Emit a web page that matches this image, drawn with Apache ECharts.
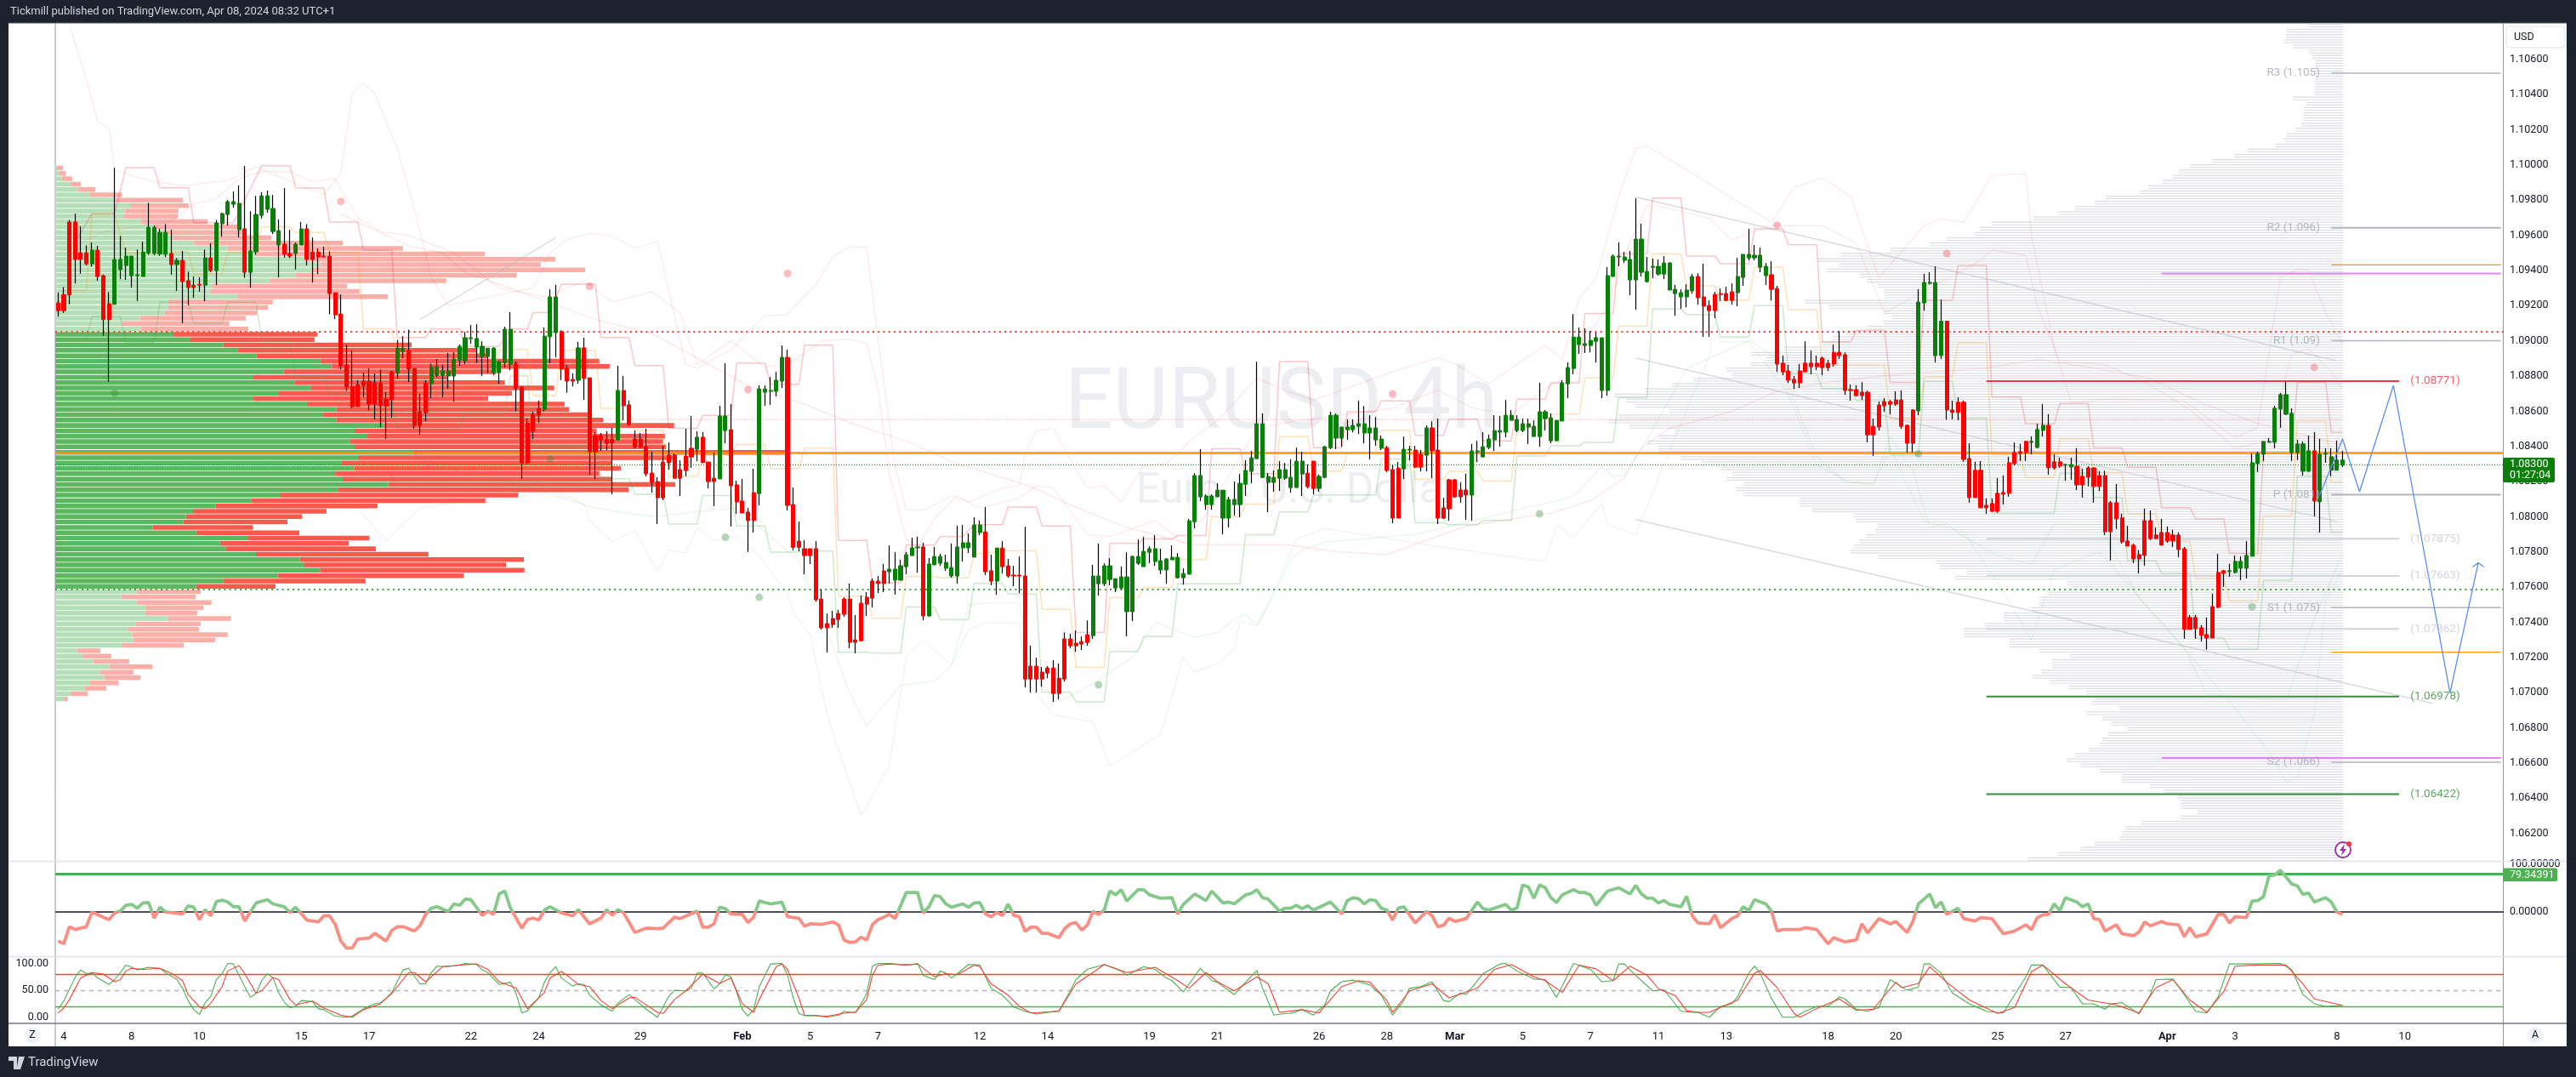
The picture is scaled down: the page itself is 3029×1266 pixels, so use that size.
<!DOCTYPE html>
<html><head><meta charset="utf-8">
<style>html,body{margin:0;padding:0;background:#1e222d}#c{width:3029px;height:1266px}</style>
<script src="https://cdn.jsdelivr.net/npm/echarts@6/dist/echarts.min.js"></script>
</head><body><div id="c"></div>
<script>
// Prices below are written as (price - 1) * 100000, so 8912 reads 1.08912
const candles = [ // [open, close, low, high]
[9216,9172,9138,9274],[9264,9172,9159,9306],[9676,9261,9208,9688],[9676,9463,9326,9724],[9501,9463,9382,9651],
[9501,9438,9429,9543],[9438,9516,9422,9559],[9516,9366,9342,9540],[9371,9121,9029,9377],[9211,9121,8767,9277],
[9208,9463,9208,9984],[9405,9463,9351,9596],[9429,9482,9348,9530],[9371,9482,9303,9482],[9371,9376,9227,9519],
[9366,9506,9366,9564],[9500,9646,9490,9785],[9497,9646,9487,9656],[9495,9617,9484,9638],[9492,9617,9477,9664],
[9497,9434,9377,9632],[9434,9458,9284,9471],[9458,9337,9100,9511],[9342,9303,9203,9393],[9317,9303,9245,9366],
[9322,9317,9280,9361],[9317,9472,9226,9519],[9472,9400,9390,9555],[9400,9671,9317,9688],[9666,9724,9593,9729],
[9719,9792,9656,9801],[9777,9792,9758,9850],[9632,9782,9588,9884],[9637,9390,9358,9995],[9390,9511,9303,9737],
[9506,9719,9490,9825],[9714,9825,9696,9845],[9748,9825,9729,9855],[9622,9753,9608,9830],[9545,9627,9361,9690],
[9550,9492,9474,9869],[9497,9482,9471,9632],[9497,9550,9406,9559],[9545,9637,9545,9676],[9637,9463,9429,9664],
[9506,9463,9332,9588],[9506,9477,9380,9525],[9482,9477,9477,9535],[9482,9269,9151,9509],[9274,9148,9124,9274],
[9153,8858,8839,9264],[8863,8737,8716,8979],[8742,8626,8616,8945],[8751,8626,8626,8776],[8771,8745,8680,8818],
[8771,8640,8606,8843],[8761,8640,8555,8814],[8761,8630,8510,8837],[8669,8629,8442,8708],[8824,8664,8563,8829],
[8819,8959,8785,9006],[8940,8959,8901,9027],[8945,8839,8766,9064],[8843,8519,8500,8843],[8597,8519,8466,8698],
[8761,8592,8543,8776],[8756,8853,8674,8871],[8805,8853,8795,8897],[8805,8829,8680,8863],[8800,8829,8729,8930],
[8800,8897,8655,8935],[8892,8969,8858,8979],[8887,9018,8868,9051],[9013,9018,8984,9090],[8964,9013,8874,9095],
[8911,8969,8800,8998],[8911,8959,8818,8959],[8819,8959,8806,8964],[8819,8882,8756,8887],[8877,9066,8848,9080],
[8868,9066,8834,9163],[8872,8732,8600,8882],[8737,8306,8216,8742],[8534,8307,8300,8558],[8582,8486,8442,8597],
[8616,8577,8534,8660],[8611,9027,8600,9076],[9023,9250,8873,9294],[9047,9250,8906,9318],[9053,8839,8777,9060],
[8844,8771,8705,8861],[8781,8771,8742,8815],[8776,8960,8756,8994],[8960,8786,8665,9018],[8790,8369,8239,8790],
[8461,8369,8215,8481],[8461,8437,8374,8476],[8442,8418,8379,8486],[8442,8418,8128,8505],[8437,8718,8437,8858],
[8718,8631,8548,8800],[8636,8524,8519,8660],[8442,8398,8389,8490],[8442,8394,8394,8476],[8398,8244,8229,8500],
[8248,8195,8137,8369],[8200,8108,7958,8224],[8311,8108,8094,8403],[8350,8307,8268,8423],[8350,8219,8215,8358],
[8268,8219,8118,8321],[8345,8263,8229,8500],[8389,8340,8278,8573],[8384,8452,8316,8486],[8452,8307,8307,8481],
[8311,8200,8161,8311],[8219,8200,8060,8365],[8215,8573,8215,8631],[8490,8573,8418,8873],[8495,8176,7944,8640],
[8181,8084,8016,8205],[8089,8021,8021,8215],[8026,7978,7800,8050],[8137,7978,7910,8273],[8132,8727,8065,8747],
[8708,8727,8631,8747],[8713,8718,8636,8795],[8713,8776,8684,8824],[8771,8906,8732,8974],[8906,8065,8036,8950],
[8069,7826,7808,8166],[7861,7826,7803,7973],[7818,7779,7673,7866],[7818,7779,7731,7818],[7818,7528,7518,7861],
[7532,7368,7358,7586],[7392,7368,7228,7450],[7421,7387,7368,7465],[7450,7416,7368,7470],[7532,7445,7431,7542],
[7532,7286,7252,7620],[7300,7286,7223,7441],[7508,7295,7290,7552],[7542,7503,7436,7571],[7634,7537,7484,7649],
[7634,7620,7566,7663],[7692,7620,7571,7731],[7687,7702,7620,7837],[7639,7702,7557,7799],[7639,7721,7639,7755],
[7716,7784,7673,7799],[7779,7823,7779,7881],[7823,7828,7682,7886],[7828,7436,7412,7852],[7436,7731,7431,7765],
[7726,7774,7726,7828],[7736,7774,7721,7789],[7707,7740,7692,7784],[7663,7711,7653,7847],[7663,7828,7620,7949],
[7823,7852,7745,7953],[7823,7852,7794,7905],[7770,7953,7770,7997],[7910,7953,7895,7978],[7914,7687,7668,8055],
[7692,7634,7610,7784],[7634,7822,7556,7822],[7822,7716,7677,7861],[7721,7663,7653,7760],[7668,7663,7605,7721],
[7668,7663,7566,7774],[7663,7077,7029,7943],[7150,7077,7000,7266],[7150,7077,7000,7198],[7116,7077,7034,7145],
[7140,7111,7082,7150],[7140,6995,6947,7184],[7082,6995,6961,7165],[7305,7077,7063,7342],[7305,7266,7252,7334],
[7281,7266,7232,7353],[7290,7276,7242,7319],[7329,7285,7266,7411],[7324,7663,7305,7726],[7619,7663,7552,7847],
[7619,7721,7605,7735],[7643,7721,7610,7764],[7595,7648,7571,7648],[7595,7658,7585,7716],[7460,7658,7319,7798],
[7460,7774,7406,7779],[7735,7774,7726,7871],[7716,7803,7716,7885],[7798,7818,7735,7832],[7745,7818,7721,7895],
[7697,7750,7673,7818],[7697,7760,7619,7764],[7755,7769,7755,7837],[7653,7769,7648,7793],[7653,7677,7614,7706],
[7673,7977,7673,7987],[7972,8234,7934,8248],[8113,8234,8089,8384],[8069,8118,8040,8127],[8069,8118,8040,8127],
[8113,8151,8113,8190],[7992,8151,7900,8151],[7992,8098,7939,8113],[8069,8098,8006,8200],[8069,8190,7997,8243],
[8185,8263,8118,8321],[8258,8335,8190,8374],[8330,8529,8330,8882],[8224,8529,8219,8587],[8195,8229,8026,8248],
[8195,8224,8142,8263],[8219,8268,8147,8316],[8219,8268,8210,8306],[8166,8224,8137,8326],[8166,8316,8166,8393],
[8243,8316,8118,8369],[8248,8171,8161,8297],[8316,8161,8127,8316],[8161,8229,8142,8239],[8224,8398,8219,8403],
[8393,8577,8384,8597],[8447,8577,8384,8587],[8447,8510,8398,8510],[8495,8510,8437,8553],[8495,8519,8480,8553],
[8514,8529,8471,8659],[8476,8529,8418,8630],[8476,8505,8326,8577],[8437,8505,8403,8567],[8389,8442,8379,8461],
[8393,8263,8253,8403],[8268,7992,7963,8292],[8277,7992,7992,8311],[8272,8384,8214,8456],[8379,8384,8321,8403],
[8379,8282,8277,8403],[8355,8282,8258,8379],[8350,8505,8258,8519],[8505,8374,8219,8543],[8379,7992,7958,8558],
[8050,7992,7987,8108],[8210,8045,7977,8215],[8210,8113,8108,8215],[8152,8113,8079,8195],[8152,8123,7982,8244],
[8123,8374,7977,8413],[8369,8374,8311,8432],[8340,8398,8340,8481],[8394,8442,8384,8466],[8437,8490,8374,8577],
[8481,8490,8398,8573],[8481,8577,8452,8664],[8548,8577,8548,8606],[8490,8553,8481,8577],[8490,8529,8481,8558],
[8510,8529,8413,8558],[8456,8514,8456,8548],[8456,8597,8398,8761],[8558,8597,8490,8606],[8432,8563,8418,8587],
[8432,8548,8432,8548],[8544,8761,8544,8776],[8756,8848,8674,8877],[8843,9022,8810,9153],[8979,9022,8926,9076],
[8974,8984,8931,9071],[8974,9003,8935,9056],[8998,9018,8877,9047],[8718,9018,8674,9018],[8718,9371,8689,9419],
[9366,9482,9366,9492],[9477,9482,9424,9560],[9458,9477,9443,9506],[9347,9463,9260,9511],[9347,9579,9177,9811],
[9390,9579,9366,9666],[9337,9395,9332,9477],[9419,9424,9356,9468],[9380,9424,9371,9463],[9380,9443,9351,9482],
[9289,9443,9289,9448],[9269,9293,9143,9318],[9250,9274,9182,9293],[9250,9289,9192,9322],[9284,9366,9269,9380],
[9366,9245,9206,9385],[9250,9197,9023,9439],[9201,9172,9023,9230],[9264,9172,9129,9279],[9269,9264,9226,9298],
[9269,9230,9226,9308],[9279,9230,9206,9327],[9274,9366,9197,9472],[9361,9492,9313,9492],[9472,9492,9458,9637],
[9472,9487,9458,9545],[9419,9487,9390,9530],[9371,9424,9318,9443],[9376,9293,9230,9453],[9298,8868,8824,9313],
[8873,8824,8805,8916],[8829,8776,8761,8863],[8781,8761,8727,8800],[8829,8761,8732,8868],[8873,8824,8824,8998],
[8873,8853,8810,8945],[8873,8853,8834,8916],[8902,8848,8805,8911],[8873,8848,8829,8892],[8935,8868,8853,8979],
[8935,8916,8897,9056],[8921,8718,8693,8935],[8723,8718,8660,8752],[8723,8689,8684,8747],[8708,8689,8664,8766],
[8708,8466,8423,8718],[8514,8466,8345,8558],[8635,8510,8490,8655],[8655,8631,8597,8674],[8655,8640,8582,8664],
[8664,8640,8631,8713],[8664,8514,8500,8718],[8520,8418,8365,8525],[8607,8418,8365,8612],[8602,9221,8578,9294],
[9216,9332,9173,9381],[9327,9332,9321,9390],[8916,9332,8878,9424],[8916,9112,8897,9236],[9112,8607,8552,9112],
[8607,8593,8554,8660],[8651,8593,8549,8680],[8651,8326,8312,8660],[8331,8109,8080,8418],[8264,8109,8109,8312],
[8264,8051,8051,8317],[8065,8051,8017,8104],[8075,8031,8026,8104],[8133,8031,8022,8220],[8138,8128,8070,8234],
[8307,8133,8114,8341],[8365,8302,8293,8423],[8370,8360,8317,8414],[8428,8365,8317,8433],[8423,8428,8355,8457],
[8394,8496,8389,8528],[8491,8520,8457,8641],[8520,8278,8239,8583],[8312,8278,8268,8355],[8312,8288,8278,8336],
[8293,8297,8205,8302],[8283,8297,8210,8336],[8288,8181,8152,8389],[8230,8181,8109,8273],[8278,8225,8172,8288],
[8278,8172,8080,8278],[8234,8172,8147,8259],[8234,7915,7896,8262],[8080,7915,7751,8089],[8080,7988,7930,8186],
[7993,7857,7847,8017],[7862,7833,7833,7949],[7838,7760,7736,7847],[7785,7760,7678,7809],[7978,7780,7722,8046],
[7978,7876,7867,8036],[7896,7876,7872,7939],[7910,7838,7838,7988],[7910,7862,7852,7944],[7896,7862,7828,7925],
[7896,7814,7770,7910],[7818,7359,7306,7828],[7427,7359,7359,7441],[7427,7364,7306,7441],[7369,7325,7291,7383],
[7330,7310,7244,7427],[7489,7310,7310,7562],[7683,7485,7480,7789],[7693,7678,7601,7698],[7688,7693,7659,7731],
[7683,7746,7678,7780],[7707,7746,7639,7775],[7707,7780,7649,7862],[7775,8307,7775,8360],[8302,8360,8254,8370],
[8355,8428,8317,8428],[8423,8428,8423,8447],[8423,8617,8389,8631],[8612,8694,8505,8704],[8583,8694,8578,8767],
[8365,8588,8317,8617],[8365,8414,8322,8438],[8259,8414,8234,8428],[8259,8375,8254,8462],[8375,8089,8002,8481],
[8085,8355,7910,8443],[8355,8360,8307,8389],[8264,8341,8230,8389],[8264,8322,8264,8433],[8293,8322,8283,8375]
];
const tickIdx = [1,13,25,43,55,73,85,103,121,133,145,163,175,193,205,223,235,247,259,271,283,295,313,325,343,355,373,385,403,415];
const tickText = ['4','8','10','15','17','22','24','29','Feb','5','7','12','14','19','21','26','28','Mar','5','7','11','13','18','20','25','27','Apr','3','8','10'];
const priceTicks = [1.062,1.064,1.066,1.068,1.07,1.072,1.074,1.076,1.078,1.08,1.082,1.084,1.086,1.088,1.09,1.092,1.094,1.096,1.098,1.1,1.102,1.104,1.106];
const leftGreen = [3,8,12,28,42,63,110,138,128,126,158,183,198,216,256,318,368,458,488,473,443,395,290,285,335,208,208,201,156,123,158,
218,248,310,336,371,489,510,421,364,441,472,411,364,464,518,494,518,606,552,574,544,552,660,558,528,551,516,530,614,522,414,362,296,254,241,236,180,260,356,304,314,370,451,458,488,410,310,260,
150,122,150,166,166,208,148,134,142,144,122,40,50,70,100,82,90,64,54,28,16];
const leftTotal = [14,19,31,47,74,123,235,246,227,226,281,338,348,398,530,641,792,922,895,977,851,721,538,561,613,401,392,372,351,321,356,
483,478,657,778,798,1003,1022,813,723,829,920,842,798,939,947,983,1010,1141,998,1124,1120,1126,1348,1138,1026,1043,1003,1026,1143,1057,853,793,594,500,455,428,364,450,579,541,591,688,864,831,865,753,572,406,
268,259,288,273,262,324,268,265,318,295,237,83,103,136,179,144,157,116,94,60,23];
const rightVol = [40,66,67,69,59,40,37,33,33,33,33,33,33,33,
59,43,46,46,46,49,56,66,69,79,
112,128,154,180,193,200,213,229,239,279,
292,315,335,364,413,427,433,466,486,532,
590,618,593,607,568,560,547,540,539,632,
605,540,530,540,560,585,600,614,657,696,
679,696,725,718,764,789,821,857,843,832,
793,852,864,839,786,804,818,805,805,779,
754,732,718,725,704,714,705,639,639,625,
575,573,547,550,561,568,575,579,547,478,
474,442,456,324,320,346,357,357,367,399,
399,421,446,446,392,392,357,321,342,342,
355,365,345,322,302,292,296,263,302,283,
273,253,276,283,286,299,315,325,309,286,
260,260,227,210,194,191,191,171,191,237,
256,260,263,292,309,335,371];
const oscPoints = [[0,-61],[1,-67],[2,-31],[3,-37],[5,-31],[6,0],[8,-11],[9,-16],[10,-2],[11,2],[12,14],[13,16],[14,8],[15,19],[16,20],[17,-13],[18,10],[19,0],[20,-1],[22,-4],[23,13],[24,10],[25,-16],[26,5],[27,-8],[28,22],[29,25],[30,21],[31,11],[32,11],[33,-19],[35,19],[37,26],[38,17],[40,11],[41,-1],[42,10],[44,-17],[46,-21],[47,-8],[48,-8],[49,-26],[50,-61],[51,-76],[52,-76],[53,-57],[55,-55],[56,-45],[58,-61],[59,-39],[60,-31],[61,-31],[63,-40],[64,-29],[65,-5],[66,8],[67,11],[69,1],[70,17],[71,14],[72,27],[73,26],[75,-7],[76,2],[77,-5],[78,38],[79,44],[80,8],[82,-34],[83,-16],[84,-13],[85,-17],[86,4],[87,11],[89,-2],[91,-8],[92,5],[94,-25],[96,-13],[97,5],[98,-7],[99,5],[100,-2],[102,-43],[104,-34],[106,-35],[107,-34],[109,-11],[110,-14],[113,2],[114,-32],[115,-32],[116,-25],[117,10],[118,7],[119,-4],[121,-5],[122,-22],[123,-11],[124,23],[126,17],[128,21],[129,-10],[131,-13],[132,-30],[133,-25],[135,-26],[137,-21],[138,-27],[139,-59],[140,-64],
[141,-63],[142,-53],[143,-59],[144,-27],[145,-16],[146,-11],[147,-5],[148,-14],[150,41],[152,41],[153,-2],[154,11],[155,35],[156,32],[157,17],[158,10],[160,17],[161,10],[162,19],[163,20],[164,-4],[165,-10],[166,-1],[167,-8],[168,17],[169,-7],[170,-10],[171,-41],[172,-32],[173,-32],[174,-45],[175,-45],[177,-54],[178,-35],[179,-25],[180,-22],[181,-38],[182,-28],[183,1],[184,-5],[185,4],[186,44],[187,36],[188,47],[189,23],[191,47],[192,47],[193,36],[195,29],[197,30],[198,-4],[199,16],[201,38],[203,24],[204,44],[206,19],[207,21],[208,17],[210,36],[211,39],[212,47],[213,30],[214,27],[216,2],[217,8],[218,8],[219,14],[220,7],[221,13],[222,4],[225,21],[227,-4],[228,24],[229,30],[230,28],[231,17],[232,26],[233,24],[234,8],[235,4],[236,-17],[237,8],[238,11],[240,-23],[242,1],[243,-8],[244,-31],[245,-28],[246,-13],[247,-20],[249,-14],[251,21],[252,7],[253,4],[256,16],[257,4],[258,8],[259,57],[260,53],[261,29],[262,57],[263,51],[264,30],[265,20],[266,36],[268,47],[269,41],[270,41],[271,36],[272,14],[274,44],[276,51],[278,38],[279,56],[280,38],[281,29],[282,29],[283,19],[284,24],[285,16],[287,11],[288,33],[289,-8],[290,-23],
[291,-24],[292,-25],[293,-6],[294,-33],[296,-14],[297,-8],[298,11],[299,3],[300,26],[302,17],[303,2],[304,-40],[305,-37],[308,-37],[309,-33],[311,-37],[313,-67],[314,-54],[316,-63],[318,-59],[319,-25],[320,-44],[322,-14],[324,-25],[325,-20],[327,-43],[328,-20],[329,17],[331,38],[332,9],[333,21],[334,-5],[336,8],[337,-14],[339,-19],[340,-12],[342,-14],[344,-46],[346,-40],[348,-27],[349,-37],[350,-12],[351,-6],[352,-5],[353,17],[354,3],[355,30],[357,21],[358,11],[359,17],[360,-14],[361,-16],[362,-40],[364,-27],[365,-46],[367,-50],[368,-42],[369,-21],[370,-29],[372,-20],[373,-25],[375,-27],[376,-52],[377,-33],[378,-52],[380,-46],[382,-5],[383,-5],[384,-23],[385,-10],[387,-12],[388,23],[389,24],[390,32],[391,76],[392,78],[393,88],[395,59],[396,55],[397,37],[398,40],[399,21],[401,30],[402,21],[403,0],[404,-5]];
const stochK = [[0,15],[1,30],[2,52],[3,74],[4,88],[5,81],[6,82],[7,73],[9,61],[10,70],[11,83],[12,97],[13,93],[14,88],[16,93],[18,91],[19,83],[21,70],[22,54],[23,31],[24,14],[25,5],[26,27],[27,39],[28,70],[29,81],[30,100],[31,99],[32,78],[33,57],[34,37],[35,44],[36,68],[37,81],[38,73],[39,46],[40,28],[41,18],[42,20],[43,31],[45,29],[46,16],[47,14],[49,2],[51,0],[52,2],[54,16],[56,25],[57,27],[58,35],[59,46],[61,88],[62,91],[64,62],[65,62],[66,83],[67,95],[69,94],[71,97],[72,100],[74,98],[75,88],[76,83],[78,61],[80,65],[81,44],[82,8],[83,12],[85,36],[86,65],[87,83],[88,94],[89,73],[91,58],[92,62],[93,61],[94,41],[96,23],[98,11],[99,26],[101,42],[102,33],[104,15],[106,0],[107,19],[108,39],[109,50],[111,49],[112,54],[113,82],[114,82],[116,53],[117,62],[118,79],[119,75],[120,46],[121,14],[122,2],[123,14],[124,57],[126,99],[128,100],[129,79],[130,36],[131,7],[132,3],[134,3],[136,0],[138,4],[139,11],[140,9],
[141,9],[142,25],[143,44],[144,95],[145,100],[147,100],[149,98],[151,98],[152,100],[153,78],[155,70],[156,86],[157,82],[158,73],[159,81],[161,98],[163,97],[165,54],[167,41],[169,19],[171,11],[173,6],[177,12],[179,49],[180,70],[182,89],[185,98],[188,86],[189,78],[192,94],[194,89],[196,73],[197,68],[199,47],[202,91],[204,68],[205,65],[208,42],[210,65],[212,87],[213,54],[215,4],[217,7],[218,7],[220,14],[222,4],[224,23],[225,49],[227,66],[229,69],[232,60],[234,41],[236,4],[238,31],[239,54],[241,57],[243,66],[245,31],[246,29],[248,45],[249,42],[252,81],[255,99],[256,100],[258,86],[261,71],[263,70],[265,37],[268,100],[271,89],[273,66],[275,68],[276,99],[277,99],[278,88],[280,68],[282,49],[284,51],[287,11],[289,9],[290,9],
[292,0],[294,20],[296,25],[297,38],[299,82],[300,95],[301,82],[303,35],[305,0],[307,0],[309,11],[311,20],[313,20],[315,38],[316,34],[318,15],[320,11],[322,18],[324,70],[327,50],[329,56],[330,99],[331,99],[333,82],[335,45],[338,25],[341,11],[344,8],[345,25],[348,75],[349,97],[351,97],[354,56],[356,55],[358,25],[360,25],[362,15],[363,25],[365,27],[368,6],[370,42],[371,70],[374,71],[376,42],[378,11],[380,8],[382,38],[384,99],[388,99],[393,100],[395,89],[397,42],[399,25],[401,20],[404,22]];
const stochD = [[0,8],[1,17],[2,33],[4,73],[6,83],[8,80],[10,66],[11,70],[12,86],[13,91],[15,89],[18,91],[20,82],[22,68],[23,42],[25,19],[26,16],[27,26],[29,57],[30,86],[32,96],[33,81],[35,45],[36,49],[38,74],[39,70],[41,33],[42,23],[45,30],[47,17],[50,4],[52,0],[54,14],[57,25],[59,44],[62,83],[63,83],[65,66],[68,94],[71,97],[74,99],[76,89],[78,66],[81,54],[83,16],[86,46],[87,73],[89,85],[90,78],[92,61],[94,57],[96,31],[98,16],[101,36],[102,37],[106,9],[107,7],[109,33],[111,49],[114,80],[117,63],[119,73],[121,25],[123,9],[124,33],[127,94],[128,99],[129,89],[131,36],[132,4],[136,2],[140,9],
[141,9],[143,33],[144,78],[145,97],[147,99],[150,97],[152,99],[155,75],[157,81],[159,79],[162,97],[163,94],[165,62],[168,41],[170,20],[172,8],[177,11],[180,62],[183,83],[185,98],[189,83],[194,93],[198,68],[200,54],[203,83],[205,66],[208,49],[212,75],[214,62],[216,9],[220,14],[223,8],[227,57],[230,68],[232,65],[235,31],[236,9],[239,49],[243,62],[246,36],[251,54],[254,89],[257,98],[261,75],[263,68],[266,46],[269,97],[272,90],[275,68],[278,95],[281,78],[283,53],[286,40],[288,12],[290,9],
[292,9],[294,18],[297,32],[300,82],[301,87],[304,55],[307,7],[308,0],[311,16],[315,34],[318,13],[321,15],[325,65],[326,55],[329,63],[331,94],[334,65],[338,32],[343,7],[346,18],[349,85],[351,97],[355,62],[359,32],[364,23],[368,8],[371,55],[374,70],[377,32],[380,9],[383,48],[385,95],[389,97],[394,97],[397,62],[399,34],[404,22]];
const stepHigh = [[3,9560],[6,9724],[10,9724],[12,9985],[17,9985],[18,9871],[23,9871],[24,9672],[31,9672],[36,9996],[41,9996],[42,9869],[47,9869],[48,9676],[53,9676],[54,9516],[59,9516],[60,9019],[65,9019],[66,9067],[71,9067],[72,8970],[78,8970],[80,9067],[83,9067],[84,9161],[87,9161],[89,9323],[95,9323],[96,9019],[101,9019],[102,8859],[107,8859],[108,8503],[113,8503],[114,8576],[119,8576],[120,8874],[125,8874],[126,8753],[131,8753],[132,8976],[137,8976],[138,7865],[143,7865],[144,7624],[149,7624],[150,7839],[155,7839],[156,7887],[160,7887],[162,7955],[167,7955],[168,8055],[173,8055],[174,7947],[179,7947],[180,7342],[185,7342],[186,7848],[191,7848],[192,7874],[197,7874],[198,7893],[203,7893],[204,8387],[209,8387],[210,8245],[215,8245],[216,8882],[221,8882],[222,8393],[227,8393],[228,8597],[233,8597],[234,8659],[239,8659],[240,8463],[245,8463],[246,8555],[251,8555],[252,8431],[257,8431],[258,8668],[263,8668],[264,8761],[269,8761],[270,9156],[275,9156],[276,9495],[281,9495],[282,9813],[287,9813],[288,9482],[293,9482],[294,9439],[299,9439],[300,9637],[305,9637],[306,9547],[311,9547],[312,8995],[317,8995],[318,9060],[323,9060],[324,8764],[329,8764],[330,9231],[335,9231],[336,9429],[341,9429],[342,8681],[347,8681],[348,8528],[353,8528],[354,8644],[359,8644],[360,8391],[365,8391],[366,8281],[371,8281],[372,8052],[377,8052],[378,7988],[383,7988],[384,7791],[389,7791],[390,8359],[395,8359],[396,8765],[401,8765],[402,8480],[404,8480]];
const stepMid = [[1,9288],[5,9288],[6,9721],[10,9721],[12,9500],[17,9500],[18,9506],[23,9506],[24,9382],[29,9382],[30,9503],[35,9503],[36,9648],[41,9648],[42,9616],[47,9616],[48,9503],[53,9503],[54,9067],[59,9067],[60,8900],[65,8900],[66,8700],[71,8700],[72,8750],[77,8750],[78,8950],[83,8950],[84,8689],[88,8689],[89,8947],[95,8947],[96,8616],[101,8616],[102,8490],[107,8490],[108,8229],[113,8229],[114,8350],[119,8350],[120,8411],[125,8411],[126,8273],[131,8273],[132,8390],[137,8390],[138,7549],[143,7549],[144,7423],[149,7423],[150,7661],[155,7661],[156,7652],[161,7652],[162,7785],[167,7806],[173,7806],[174,7474],[179,7474],[180,7145],[185,7145],[186,7540],[191,7540],[192,7597],[197,7597],[198,7756],[203,7756],[204,8000],[209,8000],[210,8072],[215,8072],[216,8455],[221,8455],[222,8258],[227,8258],[228,8363],[233,8363],[234,8492],[239,8492],[240,8213],[245,8213],[246,8258],[251,8258],[252,8203],[257,8203],[258,8503],[263,8503],[264,8584],[269,8584],[270,8789],[275,8789],[276,9084],[281,9084],[282,9495],[287,9495],[288,9313],[293,9313],[294,9232],[299,9232],[300,9418],[305,9418],[306,9177],[311,9177],[312,8862],[323,8862],[324,8560],[329,8560],[330,8795],[335,8795],[336,8989],[341,8989],[342,8351],[347,8351],[348,8222],[353,8222],[354,8443],[359,8443],[360,8249],[365,8249],[366,8017],[371,8017],[372,7862],[377,7862],[378,7649],[383,7649],[384,7520],[389,7520],[390,8004],[395,8004],[396,8541],[401,8541],[402,8197],[404,8197]];
const stepLow = [[0,9010],[5,9010],[6,9140],[11,9140],[12,8990],[17,8990],[18,9220],[23,9220],[24,9100],[29,9100],[30,9220],[35,9220],[36,9000],[41,9000],[42,8800],[47,8800],[48,8700],[59,8700],[60,8500],[71,8500],[72,8600],[79,8600],[80,8802],[83,8802],[84,8400],[95,8400],[96,8216],[101,8216],[102,8128],[107,8128],[108,7958],[113,7958],[114,8121],[119,8121],[120,7947],[125,7947],[126,7799],[131,7799],[132,7805],[137,7805],[138,7229],[143,7229],[144,7224],[149,7224],[150,7487],[155,7487],[156,7415],[161,7415],[162,7621],[167,7621],[168,7560],[173,7560],[174,7003],[179,7003],[180,6947],[185,6947],[186,7234],[191,7234],[192,7318],[197,7318],[198,7619],[209,7619],[210,7898],[215,7898],[216,8027],[221,8027],[222,8124],[233,8124],[234,8329],[239,8329],[240,7966],[245,7966],[246,7955],[251,7955],[252,7979],[257,7979],[258,8345],[263,8345],[264,8403],[269,8403],[270,8423],[275,8423],[276,8677],[281,8677],[282,9181],[287,9181],[288,9148],[293,9148],[294,9022],[299,9022],[300,9200],[305,9200],[306,8813],[311,8813],[312,8729],[317,8729],[318,8661],[323,8661],[324,8350],[329,8350],[330,8770],[335,8770],[336,8560],[341,8560],[342,8020],[353,8020],[354,8246],[359,8246],[360,8109],[365,8109],[366,7749],[371,7749],[372,7678],[377,7678],[378,7310],[383,7310],[384,7246],[389,7246],[390,7638],[395,7638],[396,8230],[401,8230],[402,7912],[404,7912]];
const bandOuterHigh = [[2,10801],[5,10485],[7,10248],[9,10208],[10,9971],[16,9912],[22,9882],[30,9912],[35,9991],[43,9880],[47,9833],[50,9951],[52,10406],[54,10465],[56,10406],[60,10090],[63,9754],[66,9359],[69,9201],[76,9250],[84,9300],[87,9500],[90,9576],[94,9612],[98,9596],[102,9527],[106,9566],[111,8865],[113,8845],[119,8950],[125,9142],[129,9152],[134,9320],[137,9477],[140,9537],[143,9530],[145,9009],[148,8291],[150,8037],[153,8037],[158,8118],[161,8083],[167,8164],[170,8176],[171,8361],[173,8488],[176,8505],[178,8384],[182,8164],[185,8176],[188,8083],[192,8291],[196,8303],[201,8454],[205,8546],[212,8789],[216,8731],[222,8662],[236,8824],[244,8905],[247,8870],[253,8755],[263,8974],[266,8893],[269,9241],[272,9356],[276,9820],[279,10097],[281,10109],[284,10051],[290,9932],[303,9675],[307,9872],[312,9928],[317,9823],[322,9359],[330,9655],[333,9695],[337,9675],[342,9942],[348,9951],[349,9596],[353,8964],[356,8648],[362,8668],[376,8658],[385,8450],[389,8510],[393,9359],[396,9408],[398,9400],[401,9162],[404,8984]];
const bandInnerHigh = [[0,9500],[8,9620],[14,9650],[20,9680],[24,9780],[28,9809],[32,9922],[36,9963],[41,9963],[45,9906],[49,9922],[53,9700],[57,9620],[62,9600],[70,9500],[78,9300],[86,9250],[93,9339],[98,9221],[105,9280],[110,9161],[113,8865],[119,9000],[125,8850],[130,8880],[135,9000],[140,9009],[143,8986],[145,8731],[147,8245],[150,7875],[152,7828],[155,7990],[159,8118],[163,8049],[170,8106],[173,8176],[176,8164],[182,7898],[186,7886],[194,7979],[199,7852],[203,8014],[212,8500],[218,8540],[236,8616],[244,8720],[250,8620],[257,8580],[263,8730],[267,8800],[270,9010],[274,9190],[278,9560],[281,9769],[283,9769],[288,9729],[292,9697],[296,9576],[303,9655],[312,9655],[318,9556],[323,9161],[340,9458],[342,9517],[348,9487],[350,9201],[354,8885],[362,8865],[369,8766],[377,8608],[385,8391],[391,8431],[395,8924],[398,8954],[402,8826],[404,8727]];
const bandBasis = [[50,9720],[56,9630],[62,9540],[68,9500],[72,9390],[80,9300],[95,9122],[105,9043],[114,8885],[122,8747],[133,8628],[140,8535],[150,8430],[159,8303],[172,8172],[179,8068],[189,7939],[195,7890],[200,7842],[217,7842],[226,7802],[235,7785],[249,7947],[257,7987],[264,8020],[271,8092],[277,8221],[280,8390],[285,8503],[296,8600],[304,8713],[312,8761],[323,8802],[341,8846],[350,8895],[360,8846],[370,8786],[379,8648],[389,8530],[404,8411]];
const bandInnerLow = [[64,8300],[80,8200],[95,8050],[105,8000],[120,8050],[131,7750],[136,7350],[140,7000],[143,6810],[149,7041],[155,7065],[158,7157],[161,7495],[164,7511],[170,7511],[172,7100],[177,6950],[183,7050],[190,7200],[194,7400],[201,7314],[205,7342],[208,7414],[210,7447],[212,7382],[215,7552],[218,7761],[220,7810],[224,7855],[240,7900],[264,8084],[268,8116],[273,8285],[275,8229],[277,8237],[281,8439],[288,8842],[299,9003],[304,8900],[311,8342],[316,8197],[321,8189],[324,8455],[328,8262],[331,7939],[334,7963],[336,7907],[343,7778],[349,7730],[353,7954],[361,7955],[368,7536],[376,7255],[380,6990],[388,6970],[394,6957],[399,7419],[404,7789]];
const bandOuterLow = [[53,8051],[55,7971],[58,7866],[64,8051],[75,8100],[85,8200],[93,8068],[94,7979],[98,7858],[102,7923],[106,7689],[108,7810],[111,7794],[113,7939],[116,7866],[120,7890],[124,7778],[126,7689],[129,7568],[130,7455],[133,7326],[136,6875],[142,6300],[147,6585],[150,7208],[153,7300],[158,7157],[161,7358],[164,7398],[170,7398],[171,7068],[176,6874],[183,6833],[186,6583],[195,6764],[199,7205],[201,7116],[205,7164],[208,7245],[209,7406],[212,7377],[215,7574],[219,7875],[224,7933],[240,7850],[263,7745],[265,7955],[268,7882],[273,8076],[274,7955],[279,7898],[285,8374],[292,8914],[293,9132],[294,8995],[299,8995],[306,8700],[311,8294],[317,8197],[321,8181],[324,8390],[330,7974],[337,7913],[345,7522],[349,7296],[353,7700],[361,7800],[377,7214],[384,6950],[391,6659],[394,6495],[396,6515],[399,6885],[401,7522],[404,7700]];
const dotsHigh = [[50,9793],[94,9310],[129,9383],[122,8723],[236,8698],[304,9658],[334,9497],[399,8849]];
const dotsLow = [[10,8703],[87,8328],[118,7883],[124,7542],[184,7044],[262,8016],[329,8358],[388,7487]];
const trendLines = [[[64,9122],[88,9586]],[[279,9818],[403,8887]],[[279,8902],[403,7973]],[[279,7983],[420,6938]]];
const forecastPath = [[400,8125],[404,8442],[407,8142],[413,8747],[423,6998],[428,7738],[427,7714],[428,7738],[429,7714]];
const pivotLevels = [['R3 (1.105)',10522],['R2 (1.096)',9643],['R1 (1.09)',9001],['P (1.081)',8125],['S1 (1.075)',7483],['S2 (1.066)',6604]];
const fibLevels = [['(1.08771)',8771,'#f23645','#f23645',2],['(1.07875)',7875,'#c9cbd1','#d1d4dc',2],['(1.07663)',7663,'#c9cbd1','#d1d4dc',2],['(1.07362)',7362,'#c9cbd1','#d1d4dc',2],['(1.06978)',6978,'#388e3c','#388e3c',2],['(1.06422)',6422,'#388e3c','#388e3c',2]];
const orangeShort = [9432,7230], violetShort = [9383,6628];
const pocPrice = 8365, vahPrice = 9051, valPrice = 7586, lastPrice = 8295, sessionPrice = 8553;
const oscLevel = 79.34391;

const P = v => 1 + v / 100000;
const pts = a => a.map(d => [d[0], P(d[1])]);
const FONT = 'Roboto, "Noto Sans", sans-serif';
const L=65, W=2879, N=433;
const priceTop=27, priceBottom=1012.5, oscBottom=1124.5, stochBottom=1203;
const oscMin=-94, oscMax=106.6;
const cats = Array.from({length:N},(_,i)=>{const k=tickIdx.indexOf(i);return k<0?'':tickText[k];});

const series = [];
const ln = (data,color,width,extra={}) => series.push(Object.assign({type:'line',data,symbol:'none',silent:true,animation:false,
  lineStyle:{color,width},xAxisIndex:0,yAxisIndex:0,z:4},extra));
const mark = (value,color,width,type,xi=0,yi=0,z=6) => series.push({type:'line',data:[],xAxisIndex:xi,yAxisIndex:yi,silent:true,animation:false,z,
  markLine:{silent:true,animation:false,symbol:'none',precision:8,label:{show:false},z,lineStyle:{color,width,type},data:[{yAxis:value}]}});

// volume profile, left: green part and total per row
const leftTopPrice=1.09983, leftStep=0.000305, vaFirst=31, vaLast=78;
series.push({type:'custom',xAxisIndex:1,yAxisIndex:0,silent:true,animation:false,z:2,
 data:leftGreen.map((g,i)=>[g,leftTopPrice-i*leftStep,leftTotal[i],i]),encode:{x:0,y:1},
 renderItem(p,api){
  const g=api.value(0),pr=api.value(1),t=api.value(2),i=api.value(3);
  const a=api.coord([0,pr]),b=api.coord([g,pr]),c=api.coord([t,pr]);
  const h=api.size([0,leftStep])[1]-0.8, d=i>=vaFirst&&i<=vaLast;
  return {type:'group',children:[
   {type:'rect',shape:{x:a[0],y:a[1]-h/2,width:b[0]-a[0],height:h},style:{fill:d?'#5cb860':'#b5dfb7'}},
   {type:'rect',shape:{x:b[0],y:a[1]-h/2,width:c[0]-b[0],height:h},style:{fill:d?'#f7594d':'#fbafa9'}}]};
 }});
// volume profile, right: anchored on the last bar, growing leftwards
const rightTopPrice=1.107934, rightStep=0.0002963;
series.push({type:'custom',xAxisIndex:2,yAxisIndex:0,silent:true,animation:false,z:1,
 data:rightVol.map((v,i)=>[v,rightTopPrice-i*rightStep]),encode:{x:0,y:1},
 renderItem(p,api){
  const v=api.value(0),pr=api.value(1);
  const a=api.coord([0,pr]),b=api.coord([v,pr]),s=api.size([0,rightStep])[1]/4;
  return {type:'group',children:[-1,1].map(k=>({type:'rect',shape:{x:b[0],y:a[1]+k*s-0.6,width:a[0]-b[0],height:1.2},style:{fill:'#dcdee3'}}))};
 }});

ln(pts(bandOuterHigh),'rgba(242,54,69,0.12)',1.2);
ln(pts(bandInnerHigh),'rgba(242,54,69,0.12)',1.2);
ln(pts(bandBasis),'rgba(242,54,69,0.14)',1.2);
ln(pts(bandInnerLow),'rgba(76,175,80,0.13)',1.2);
ln(pts(bandOuterLow),'rgba(76,175,80,0.11)',1.2);
ln(pts(stepHigh),'rgba(242,54,69,0.28)',1.5);
ln(pts(stepMid),'rgba(255,152,0,0.28)',1.5);
ln(pts(stepLow),'rgba(76,175,80,0.28)',1.5);
trendLines.forEach(t=>ln(pts(t),'rgba(178,181,190,0.55)',1.2,{z:3}));

mark(P(vahPrice),'#f44336',2.2,[2,4.2]);
mark(P(valPrice),'#43a047',2.2,[2,4.2]);
mark(P(lastPrice),'#0a8a0a',1,[1,2]);
mark(P(pocPrice),'#ff9800',2.5,'solid');
ln([[97,P(sessionPrice)],[404,P(sessionPrice)]],'#f68f9b',1,{z:3,lineStyle:{color:'#f68f9b',width:1,type:[1,2]}});

// wicks, then bodies
const wickStyle={color:'#000',color0:'#000',borderColor:'#000',borderColor0:'#000',borderColorDoji:'#000',borderWidth:1.2};
series.push({type:'candlestick',name:'wick',data:candles.map(c=>[P(c[0]),P(c[1]),P(c[2]),P(c[3])]),barWidth:1,itemStyle:wickStyle,silent:true,animation:false,z:7,xAxisIndex:0,yAxisIndex:0,progressive:0,large:false});
series.push({type:'candlestick',name:'body',data:candles.map(c=>[P(c[0]),P(c[1]),P(Math.min(c[0],c[1])),P(Math.max(c[0],c[1]))]),barWidth:4.6,
 itemStyle:{color:'#0a800a',color0:'#ff0000',borderColor:'#0a800a',borderColor0:'#ff0000',borderWidth:1},silent:true,animation:false,z:8,xAxisIndex:0,yAxisIndex:0,progressive:0,large:false});

series.push({type:'scatter',data:pts(dotsHigh),symbolSize:9,itemStyle:{color:'rgba(242,54,69,0.42)'},silent:true,animation:false,z:9});
series.push({type:'scatter',data:pts(dotsLow),symbolSize:9,itemStyle:{color:'rgba(56,142,60,0.45)'},silent:true,animation:false,z:9});

// short levels on the right
const hl=(i0,i1,v,color,width)=>ln([[i0,P(v)],[i1,P(v)]],color,width,{z:5});
pivotLevels.forEach(l=>hl(402,432,l[1],'#b2b5be',l[1]===8125||l[1]===9643?2:1.5));
orangeShort.forEach(v=>hl(402,432,v,'#ff9800',1.3));
violetShort.forEach(v=>hl(372,432,v,'#ea80fc',2));
fibLevels.forEach(l=>hl(341,414,l[1],l[3],l[4]));
ln(pts(forecastPath),'#5a8fef',1.3,{z:10});

series.push({type:'scatter',symbolSize:0,silent:true,animation:false,z:11,
 data:pivotLevels.map(l=>({value:[400,P(l[1])],label:{show:true,position:'left',distance:0,formatter:l[0],color:'#a3a6af',fontSize:13.5,fontFamily:FONT}}))});
series.push({type:'scatter',symbolSize:0,silent:true,animation:false,z:11,
 data:fibLevels.map(l=>({value:[416,P(l[1])],label:{show:true,position:'right',distance:0,formatter:l[0],color:l[2],fontSize:13.5,fontFamily:FONT}}))});

// oscillator: green above its zero level, red below
const zeroAt=oscMax/(oscMax-oscMin);
const oscColor={type:'linear',x:0,y:priceBottom,x2:0,y2:oscBottom,global:true,colorStops:[
 {offset:0,color:'#85c98a'},{offset:zeroAt,color:'#85c98a'},{offset:zeroAt,color:'#fb8d83'},{offset:1,color:'#fb8d83'}]};
ln(oscPoints,oscColor,3.8,{xAxisIndex:3,yAxisIndex:1,z:5});
mark(0,'#131722',1.6,'solid',3,1,4);
mark(oscLevel,'#4caf50',3,'solid',3,1,4);
// stochastic
mark(80,'#f44336',1.4,'solid',4,2,3);
mark(50,'#b2b5be',1.4,[5,5],4,2,3);
mark(20,'#4caf50',1.4,'solid',4,2,3);
ln(stochK,'#4caf50',1.1,{xAxisIndex:4,yAxisIndex:2});
ln(stochD,'#f44336',1.1,{xAxisIndex:4,yAxisIndex:2});

const hidCat=(i,extra={})=>Object.assign({type:'category',gridIndex:i,data:cats,boundaryGap:true,axisLine:{show:false},axisTick:{show:false},axisLabel:{show:false},splitLine:{show:false}},extra);
const tickFont={color:'#131722',fontSize:12.5,fontFamily:FONT};
const gLine=(x1,y1,x2,y2,c,w=1)=>({type:'line',z:1,shape:{x1,y1,x2,y2},style:{stroke:c,lineWidth:w},silent:true});
const gText=(x,y,text,fill,size,extra={})=>({type:'text',x,y,z:extra.z||1,silent:true,style:Object.assign({text,fill,font:`${extra.weight||'normal'} ${size}px ${FONT}`,textAlign:extra.align||'left',textVerticalAlign:'middle'},extra.style||{})});
const gRect=(x,y,width,height,fill,z=1,r=0,stroke)=>({type:'rect',z,silent:true,shape:{x,y,width,height,r},style:{fill,stroke:stroke||null,lineWidth:stroke?1:0}});

const graphic=[
 gRect(10,27,3008,1203,'#ffffff',-5),
 gText(12,14,'Tickmill published on TradingView.com, Apr 08, 2024 08:32 UTC+1','#d1d4dc',13),
 gText(33,1249,'TradingView','#d1d4dc',15),
 {type:'polygon',z:1,silent:true,shape:{points:[[10,1242],[20,1242],[20,1257],[16,1257],[16,1247],[10,1247]]},style:{fill:'#d1d4dc'}},
 {type:'polygon',z:1,silent:true,shape:{points:[[22,1242],[29,1242],[24,1257],[19.5,1257]]},style:{fill:'#d1d4dc'}},
 gLine(10,27,3018,27,'#50535e',1),
 gLine(65,27,65,1230,'#9598a1'),
 gLine(2943.5,27,2943.5,1230,'#9598a1'),
 gLine(10,priceBottom,3018,priceBottom,'#e0e3eb',1.4),
 gLine(10,oscBottom,3018,oscBottom,'#e0e3eb',1.4),
 gLine(10,stochBottom,3018,stochBottom,'#787b86',1.4),
 gText(1252,478,'EURUSD 4h','#eceef1',100,{z:-1}),
 gText(1336,578,'Euro / U.S. Dollar','#eceef1',50,{z:-1}),
 gRect(2947,31,69,25,'#ffffff',1,4,'#e0e3eb'),
 gText(2956,44,'USD','#131722',12.5),
 gRect(2943,538,61,29,'#0a800a',100,2),
 gText(2951,546,'1.08300','#ffffff',12.5,{z:101}),
 gText(2951,559,'01:27:04','#ffffff',12.5,{z:101}),
 gRect(2943,1020.5,64,15.5,'#4caf50',100,2),
 gText(2951,1028.5,'79.34391','#ffffff',12.5,{z:101}),
 {type:'circle',z:1,silent:true,shape:{cx:38,cy:1217,r:9.5},style:{fill:'#f0f3fa'}},
 gText(38,1217,'Z','#131722',12.5,{align:'center'}),
 {type:'circle',z:1,silent:true,shape:{cx:2981,cy:1217,r:9.5},style:{fill:'#f0f3fa'}},
 gText(2981,1217,'A','#131722',12.5,{align:'center'}),
 {type:'circle',z:12,silent:true,shape:{cx:2755,cy:999,r:9},style:{fill:'#ffffff',stroke:'#9c27b0',lineWidth:1.8}},
 {type:'polygon',z:13,silent:true,shape:{points:[[2757,992],[2751,1000],[2754.5,1000],[2753,1006],[2759,998],[2755.5,998]]},style:{fill:'#9c27b0'}},
 {type:'circle',z:14,silent:true,shape:{cx:2762,cy:992,r:3},style:{fill:'#f23645'}}
];

const chart=echarts.init(document.getElementById('c'),null,{renderer:'canvas'});
chart.setOption({
 animation:false,backgroundColor:'#1e222d',
 grid:[
  {left:L,width:W,top:priceTop,height:priceBottom-priceTop,containLabel:false},
  {left:L,width:W,top:priceBottom,height:oscBottom-priceBottom},
  {left:L,width:W,top:oscBottom,height:stochBottom-oscBottom}
 ],
 xAxis:[
  hidCat(0),
  {type:'value',gridIndex:0,min:0,max:4514,show:false},
  {type:'value',gridIndex:0,inverse:true,min:-189,max:2690,show:false},
  hidCat(1),
  hidCat(2,{position:'bottom',axisLabel:{show:true,interval:0,margin:9,color:'#131722',fontSize:13,fontFamily:FONT,hideOverlap:false,
    formatter:v=>['Feb','Mar','Apr'].includes(v)?`{b|${v}}`:v,rich:{b:{fontWeight:'bold',color:'#131722',fontSize:13,fontFamily:FONT}}}})
 ],
 yAxis:[
  {type:'value',gridIndex:0,position:'right',min:1.060402,max:1.108079,scale:true,axisLine:{show:false},axisTick:{show:false},splitLine:{show:false},
   axisLabel:Object.assign({customValues:priceTicks,formatter:v=>Number(v).toFixed(5),margin:7},tickFont)},
  {type:'value',gridIndex:1,position:'right',min:oscMin,max:oscMax,axisLine:{show:false},axisTick:{show:false},splitLine:{show:false},
   axisLabel:Object.assign({customValues:[0,100],formatter:v=>Number(v).toFixed(5),margin:7},tickFont)},
  {type:'value',gridIndex:2,position:'left',min:-11.5,max:112.7,axisLine:{show:false},axisTick:{show:false},splitLine:{show:false},
   axisLabel:Object.assign({customValues:[0,50,100],formatter:v=>Number(v).toFixed(2),margin:8},tickFont)}
 ],
 graphic:{elements:graphic},
 series
});
</script></body></html>
